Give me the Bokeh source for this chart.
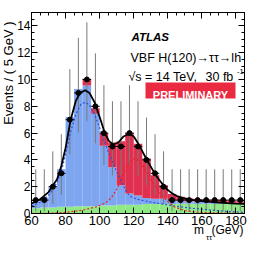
import numpy as np
from bokeh.plotting import figure
from bokeh.models import (Label, LinearAxis, SingleIntervalTicker, FixedTicker, BoxAnnotation,
                          CustomJSTickFormatter, Title)
from bokeh.embed import file_html
from bokeh.resources import INLINE

# ---------------- data ----------------
bin_lo = [60, 65, 70, 75, 80, 85, 90, 95, 100, 105, 110, 115, 120,
          125, 130, 135, 140, 145, 150, 155, 160, 165, 170, 175, 180]
bin_width = 5
data_counts = [1, 1, 2, 3, 7, 9, 10, 8, 6, 5, 5, 6, 5, 4, 3, 2,
               1, 1, 1, 1, 1, 1, 1, 1, 1]
err_low = [0.17, 0.17, 0.71, 1.37, 4.42, 6.06, 6.89, 5.23, 3.62, 2.84, 2.84, 3.62,
           2.84, 2.09, 1.37, 0.71, 0.17, 0.17, 0.17, 0.17, 0.17, 0.17, 0.17, 0.17, 0.17]
err_high = [3.30, 3.30, 4.64, 5.92, 10.77, 13.11, 14.27, 11.95, 9.58, 8.38, 8.38, 9.58,
            8.38, 7.16, 5.92, 4.64, 3.30, 3.30, 3.30, 3.30, 3.30, 3.30, 3.30, 3.30, 3.30]

other_bkg = [0.40, 0.45, 0.45, 0.50, 0.50, 0.55, 0.55, 0.55, 0.60, 0.60, 0.65, 0.65, 0.65,
             0.70, 0.70, 0.70, 0.70, 0.72, 0.72, 0.70, 0.72, 0.70, 0.72, 0.70, 0.70]
ztautau = [0.45, 0.75, 1.50, 2.80, 6.70, 8.75, 9.00, 6.90, 4.45, 2.85, 1.45, 0.85, 0.70,
           0.45, 0.40, 0.40, 0.30, 0.23, 0.18, 0.20, 0.16, 0.15, 0.10, 0.10, 0.10]
higgs = [0.00, 0.00, 0.00, 0.00, 0.00, 0.00, 0.50, 0.41, 0.95, 1.85, 3.30, 4.50, 3.85,
         2.95, 1.75, 1.00, 0.45, 0.30, 0.22, 0.18, 0.17, 0.17, 0.18, 0.15, 0.12]

fit_x = [60, 65, 70, 75, 77.5, 80, 83, 86, 88.5, 91.5, 94, 97, 100, 103, 105.5, 108,
         111, 114, 117.5, 120, 122.5, 125, 127.5, 130, 132.5, 135, 137.5, 140, 142.5,
         145, 150, 155, 160, 165, 170, 175, 180, 185]
fit_total = [0.75, 1.05, 1.6, 2.55, 3.55, 4.9, 7.0, 8.4, 9.0, 9.2, 9.0, 8.3, 7.2, 6.0,
             5.4, 5.15, 5.3, 5.75, 5.95, 5.75, 5.25, 4.65, 4.05, 3.5, 2.95, 2.5, 2.1,
             1.75, 1.5, 1.32, 1.12, 1.0, 0.93, 0.87, 0.82, 0.78, 0.74, 0.72]

z_x = [60, 65, 70, 75, 78, 80, 83, 86, 89, 91.5, 94, 97, 100, 103.6, 107, 110.5, 113,
       116, 119, 122.5, 130, 142, 152, 162, 172, 185]
z_fit = [0.55, 0.85, 1.35, 2.3, 3.4, 4.4, 6.1, 7.4, 8.15, 8.3, 8.1, 7.4, 6.4, 5.1, 4.0,
         3.0, 2.3, 1.55, 1.2, 1.05, 0.85, 0.6, 0.42, 0.3, 0.18, 0.08]

h_x = [60, 70, 80, 90, 98, 103.6, 107, 109.5, 112.7, 115.6, 118, 120.5, 123, 125.5,
       128.4, 132.4, 136.3, 140.3, 144.2, 150, 155, 165, 185]
h_fit = [0.0, 0.02, 0.08, 0.25, 0.5, 0.8, 1.2, 1.7, 2.5, 3.4, 3.9, 4.1, 3.95, 3.5,
         2.9, 2.1, 1.35, 0.85, 0.47, 0.22, 0.12, 0.05, 0.01]

x_ticks_interval = 20
y_ticks_interval = 2
y_title = "Events / ( 5 GeV )"
x_title_main = "m"
x_title_sub = "ττ"
x_title_unit = "(GeV)"

# ---------------- figure ----------------
FONT = "Liberation Sans"
p = figure(width=248, height=246, x_range=(60, 185), y_range=(0, 15),
           min_border_left=31, min_border_right=4, min_border_top=12, min_border_bottom=33,
           output_backend="svg", toolbar_location=None)
p.xgrid.visible = False
p.ygrid.visible = False
p.outline_line_color = "black"
p.background_fill_color = "white"
p.border_fill_color = "white"

lo = np.array(bin_lo, dtype=float)
hi = lo + bin_width
ctr = lo + bin_width / 2
g = np.array(other_bkg)
z = np.array(ztautau)
h = np.array(higgs)

p.quad(left=lo, right=hi, bottom=0, top=g, fill_color="#8fea86", line_color=None)
p.quad(left=lo, right=hi, bottom=g, top=g + z, fill_color="#7ea5f0", line_color=None)
p.quad(left=lo, right=hi, bottom=g + z, top=g + z + h, fill_color="#e0304f", line_color=None)

p.segment(x0=ctr, x1=ctr, y0=err_low, y1=err_high, line_color="#7a7a7a", line_width=1)

p.line(z_x, z_fit, line_color="#2a4fe0", line_width=1.2, line_dash="2 2")
p.line(h_x, h_fit, line_color="#ee2020", line_width=1.2, line_dash="2 2")
p.line(fit_x, fit_total, line_color="black", line_width=1.8)

p.segment(x0=lo, x1=hi, y0=data_counts, y1=data_counts, line_color="black", line_width=1)
p.scatter(ctr, data_counts, size=5, color="black")

# axes
def style_axis(ax, labels=True, size=13, standoff=2):
    ax.major_tick_in = 6
    ax.major_tick_out = 0
    ax.minor_tick_in = 3
    ax.minor_tick_out = 0
    ax.major_tick_line_color = "black"
    ax.minor_tick_line_color = "black"
    ax.axis_line_color = "black"
    if labels:
        ax.major_label_text_font = FONT
        ax.major_label_text_font_size = f"{size}px"
        ax.major_label_text_color = "black"
        ax.major_label_standoff = standoff
    else:
        ax.formatter = CustomJSTickFormatter(code="return ''")
        ax.major_label_standoff = 0
        ax.major_label_text_font_size = "1px"

p.xaxis.ticker = SingleIntervalTicker(interval=x_ticks_interval, num_minor_ticks=4)
p.yaxis.ticker = SingleIntervalTicker(interval=y_ticks_interval, num_minor_ticks=4)
style_axis(p.xaxis[0], size=13, standoff=2)
style_axis(p.yaxis[0], size=12, standoff=1)

top_ax = LinearAxis(ticker=SingleIntervalTicker(interval=x_ticks_interval, num_minor_ticks=4))
right_ax = LinearAxis(ticker=SingleIntervalTicker(interval=y_ticks_interval, num_minor_ticks=4))
style_axis(top_ax, labels=False)
style_axis(right_ax, labels=False)
p.add_layout(top_ax, "above")
p.add_layout(right_ax, "right")

# y-axis title: a Title in the left panel, aligned to the top end
p.add_layout(Title(text=y_title, align="right", offset=9, standoff=-3,
                   text_font=FONT, text_font_size="13px", text_font_style="normal",
                   text_color="black"), "left")

# x-axis title: two label-only axes stacked under the main axis
def title_axis(ticks, texts, size, standoff):
    ax = LinearAxis(ticker=FixedTicker(ticks=ticks, minor_ticks=[]),
                    major_label_overrides=dict(zip(ticks, texts)))
    ax.axis_line_color = None
    ax.major_tick_line_color = None
    ax.minor_tick_line_color = None
    ax.major_tick_in = 0
    ax.major_tick_out = 0
    ax.minor_tick_in = 0
    ax.minor_tick_out = 0
    ax.major_label_standoff = standoff
    ax.major_label_text_font = FONT
    ax.major_label_text_font_size = f"{size}px"
    ax.major_label_text_color = "black"
    p.add_layout(ax, "below")

title_axis([158.3, 175.0], [x_title_main, x_title_unit], 12, -5)
title_axis([164.2], [x_title_sub], 8, -7)

# helper: page px -> screen coords relative to frame (left=31, bottom=213)
def sx(px):
    return px - 31
def sy(py):
    return 213 - py

def lab(text, px, py, size, align="left", baseline="alphabetic", color="black",
        style="normal", angle=0):
    p.add_layout(Label(x=sx(px), y=sy(py), x_units="screen", y_units="screen", text=text,
                       text_font=FONT, text_font_size=f"{size}px",
                       text_align=align, text_baseline=baseline, text_color=color,
                       text_font_style=style, angle=angle))

lab("ATLAS", 131, 36.5, 11.5, style="bold italic")
lab("VBF H(120)→ττ→lh", 130, 57, 12.5)
lab("√s = 14 TeV,", 128, 76, 12.5)
lab("30 fb", 205, 76, 12.5)
lab("-1", 236.5, 71, 7.5)

p.add_layout(BoxAnnotation(left=sx(145), right=sx(235), bottom=sy(98), top=sy(82),
                           left_units="screen", right_units="screen",
                           bottom_units="screen", top_units="screen",
                           fill_color="#ea2a40", fill_alpha=1, line_color=None))
lab("PRELIMINARY", 190, 94.5, 11, align="center", color="white", style="bold")

open("out.html", "w").write(file_html(p, INLINE))
